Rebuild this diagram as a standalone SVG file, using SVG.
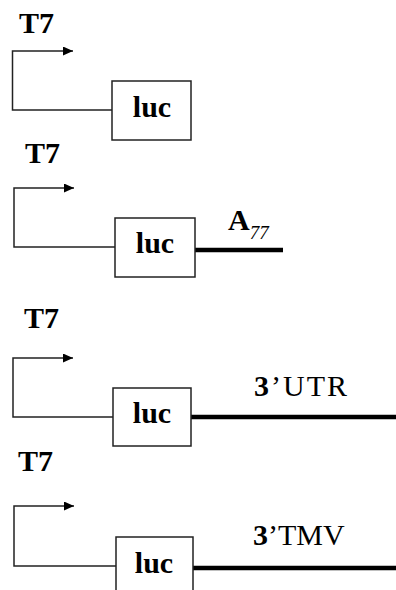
<svg xmlns="http://www.w3.org/2000/svg" width="396" height="590" viewBox="0 0 396 590">
  <style>
    .lbl { font-family: 'Liberation Serif', 'DejaVu Serif', serif; font-size: 30px; fill: #000; }
    .b { font-weight: bold; }
    .promoter { fill: none; stroke: #222; stroke-width: 1.5; }
    .box { fill: #fff; stroke: #222; stroke-width: 1.5; }
    .tail { stroke: #000; stroke-width: 4.5; }
  </style>
  <defs>
    <marker id="tip" markerUnits="userSpaceOnUse" markerWidth="11" markerHeight="9" refX="10" refY="4.5" orient="auto">
      <polygon points="0,0 10,4.5 0,9" fill="#000"/>
    </marker>
  </defs>
  <rect width="396" height="590" fill="#fff"/>

  <g id="connectors">
    <!-- promoter arrows -->
    <path class="promoter" d="M112,110 H12.5 V51 H73" marker-end="url(#tip)"/>
    <path class="promoter" d="M115,247 H14 V188 H74" marker-end="url(#tip)"/>
    <path class="promoter" d="M113,417 H13 V358 H73" marker-end="url(#tip)"/>
    <path class="promoter" d="M116,566 H14 V506 H74" marker-end="url(#tip)"/>
    <!-- 3' tails -->
    <line class="tail" x1="195" y1="250" x2="283" y2="250"/>
    <line class="tail" x1="191" y1="417" x2="396" y2="417"/>
    <line class="tail" x1="193" y1="568" x2="396" y2="568"/>
  </g>

  <g id="construct1">
    <text class="lbl b" x="19" y="33">T7</text>
    <rect class="box" x="112" y="81" width="79" height="59"/>
    <text class="lbl b" x="152" y="117" text-anchor="middle">luc</text>
  </g>

  <g id="construct2">
    <text class="lbl b" x="25" y="163">T7</text>
    <rect class="box" x="115" y="218" width="80" height="59"/>
    <text class="lbl b" x="155" y="253" text-anchor="middle">luc</text>
    <text class="lbl b" x="228" y="230" font-size="24">A<tspan font-size="19" font-style="italic" font-weight="normal" dy="9">77</tspan></text>
  </g>

  <g id="construct3">
    <text class="lbl b" x="24" y="328">T7</text>
    <rect class="box" x="113" y="388" width="78" height="58"/>
    <text class="lbl b" x="152" y="423" text-anchor="middle">luc</text>
    <text class="lbl" x="254" y="396" letter-spacing="2"><tspan font-weight="bold">3</tspan>’UTR</text>
  </g>

  <g id="construct4">
    <text class="lbl b" x="18" y="471">T7</text>
    <rect class="box" x="116" y="537" width="77" height="70"/>
    <text class="lbl b" x="154" y="573" text-anchor="middle">luc</text>
    <text class="lbl" x="253" y="545"><tspan font-weight="bold">3</tspan>’TMV</text>
  </g>
</svg>
